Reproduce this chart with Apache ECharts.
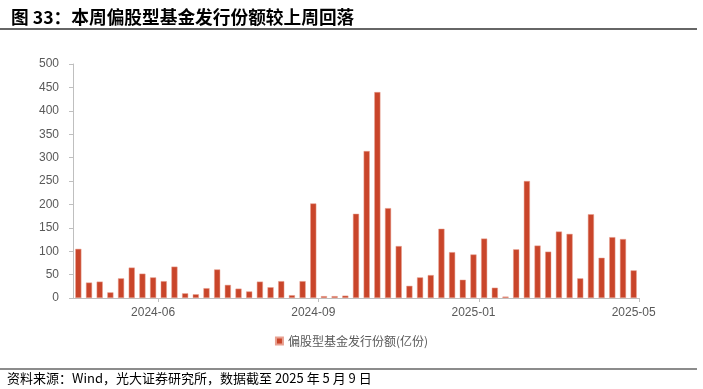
<!DOCTYPE html>
<html>
<head>
<meta charset="utf-8">
<script src="https://cdn.jsdelivr.net/npm/echarts@6/dist/echarts.min.js"></script>
<style>html,body{margin:0;padding:0;background:#fff}#c{width:703px;height:389px}</style>
</head>
<body>
<div id="c"></div>
<script>
var categories = ['2024-05-10','2024-05-17','2024-05-24','2024-05-31','2024-06-07','2024-06-14','2024-06-21','2024-06-28',
'2024-07-05','2024-07-12','2024-07-19','2024-07-26','2024-08-02','2024-08-09','2024-08-16','2024-08-23','2024-08-30',
'2024-09-06','2024-09-13','2024-09-20','2024-09-27','2024-10-04','2024-10-11','2024-10-18','2024-10-25',
'2024-11-01','2024-11-08','2024-11-15','2024-11-22','2024-11-29','2024-12-06','2024-12-13','2024-12-20','2024-12-27',
'2025-01-03','2025-01-10','2025-01-17','2025-01-24','2025-01-31','2025-02-07','2025-02-14','2025-02-21','2025-02-28',
'2025-03-07','2025-03-14','2025-03-21','2025-03-28','2025-04-04','2025-04-11','2025-04-18','2025-04-25','2025-05-02','2025-05-09'];
var issuance = [105,33,35,12,42,65,52,44,36,67,10,8,21,61,28,20,14,35,23,36,6,36,202,4,4,5,180,314,440,192,111,26,44,49,148,98,39,93,127,22,3,104,250,112,99,142,137,42,179,86,130,126,59];
var seriesName = '偏股型基金发行份额(亿份)';
var xTickLabels = {7:'2024-06', 22:'2024-09', 37:'2025-01', 52:'2025-05'};
var yTicks = [0,50,100,150,200,250,300,350,400,450,500];
var titleText = '图 33：本周偏股型基金发行份额较上周回落';
var sourceText = '资料来源：Wind，光大证券研究所，数据截至 2025 年 5 月 9 日';

var chart = echarts.init(document.getElementById('c'), null, {renderer:'canvas'});
var font = '"Liberation Sans", Arial, "Noto Sans CJK SC", sans-serif';
chart.setOption({
  animation: false,
  backgroundColor: '#fff',
  title: {
    text: titleText, left: 6, top: 3,
    textStyle: {fontSize: 17.7, fontWeight: 'bold', color: '#000', fontFamily: '"Noto Sans CJK SC", sans-serif'}
  },
  graphic: [
    {type:'line', shape:{x1:0,y1:29,x2:697,y2:29}, style:{stroke:'#333', lineWidth:1.5}},
    {type:'line', shape:{x1:0,y1:369,x2:697,y2:369}, style:{stroke:'#666', lineWidth:1.5}},
    {type:'text', left:7, top:372, style:{text: sourceText, fontSize:13, fill:'#000', fontFamily:'"Noto Sans CJK SC", sans-serif'}}
  ],
  legend: {
    data: [seriesName], top: 335, left: 'center', itemWidth: 7, itemHeight: 7, itemGap: 6,
    icon: 'rect',
    textStyle: {fontSize: 12, color: '#595959', fontFamily: '"Noto Sans CJK SC", sans-serif'},
    padding: [0,0,0,18]
  },
  grid: {left: 73, right: 64, top: 64, bottom: 91, containLabel: false},
  xAxis: {
    type: 'category', data: categories, boundaryGap: true,
    axisLine: {lineStyle: {color: '#bfbfbf', width: 1}},
    axisTick: {show: true, length: 4, lineStyle: {color: '#bfbfbf'},
      interval: function(i){ return i === 8 || i === 23 || i === 38; }},
    axisLabel: {
      interval: function(i){ return xTickLabels[i] !== undefined; },
      formatter: function(v, i){ return xTickLabels[i] || ''; },
      color: '#595959', fontSize: 12, fontFamily: font, margin: 9
    }
  },
  yAxis: {
    type: 'value', min: 0, max: 500, interval: 50,
    axisLine: {show: true, lineStyle: {color: '#bfbfbf', width: 1}},
    axisTick: {show: true, length: 4, lineStyle: {color: '#bfbfbf'}},
    splitLine: {show: false},
    axisLabel: {color: '#595959', fontSize: 12, fontFamily: font, margin: 14,
      formatter: function(v){ return yTicks.indexOf(v) >= 0 ? String(v) : ''; }}
  },
  series: [{
    name: seriesName, type: 'bar', data: issuance, barWidth: '57%',
    itemStyle: {color: '#C9452A', borderColor: '#E8A090', borderWidth: 0.5}
  }]
});
</script>
</body>
</html>
